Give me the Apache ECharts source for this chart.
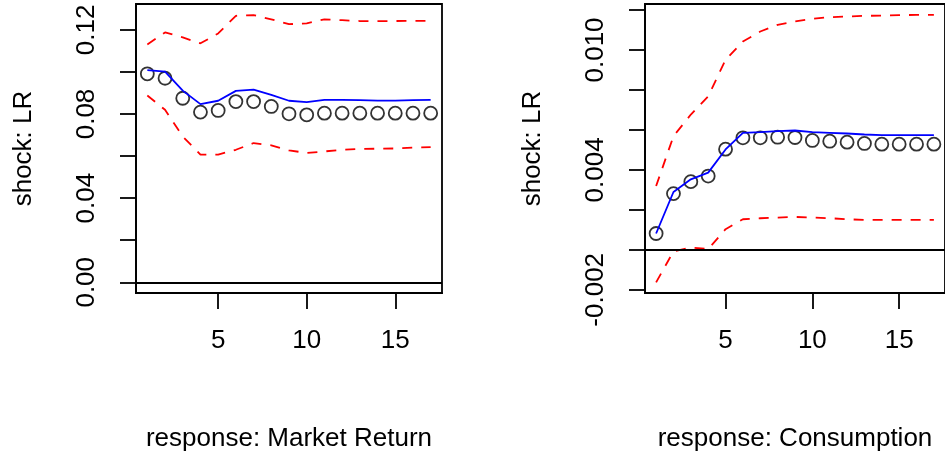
<!DOCTYPE html>
<html>
<head>
<meta charset="utf-8">
<script src="https://cdn.jsdelivr.net/npm/echarts@6/dist/echarts.min.js"></script>
<style>
html,body{margin:0;padding:0;background:#fff;}
#chart{width:945px;height:457px;}
</style>
</head>
<body>
<div id="chart"></div>
<script>
// ---- data ----
const periods = [1,2,3,4,5,6,7,8,9,10,11,12,13,14,15,16,17];

// Panel 1: shock LR -> response Market Return
const mktPoints = [0.0991,0.0970,0.0875,0.0809,0.0817,0.0859,0.0859,0.0836,0.0801,0.0796,0.0804,0.0804,0.0804,0.0804,0.0804,0.0804,0.0804];
const mktLine   = [0.1009,0.1001,0.0911,0.0847,0.0863,0.0910,0.0916,0.0891,0.0863,0.0856,0.0867,0.0867,0.0866,0.0864,0.0864,0.0866,0.0867];
const mktUpper  = [0.1131,0.1188,0.1164,0.1136,0.1183,0.1267,0.1270,0.1250,0.1227,0.1231,0.1250,0.1246,0.1242,0.1242,0.1242,0.1243,0.1243];
const mktLower  = [0.0888,0.0820,0.0693,0.0607,0.0607,0.0630,0.0662,0.0651,0.0627,0.0615,0.0622,0.0630,0.0634,0.0635,0.0636,0.0640,0.0643];

// Panel 2: shock LR -> response Consumption
const conPoints = [0.000818,0.002813,0.003412,0.003691,0.005037,0.005606,0.005606,0.005636,0.005621,0.005472,0.005436,0.005387,0.005322,0.005287,0.005287,0.005287,0.005287];
const conLine   = [0.000818,0.002893,0.003527,0.003861,0.005023,0.005856,0.005886,0.005936,0.005971,0.005886,0.005856,0.005821,0.005771,0.005736,0.005736,0.005736,0.005736];
const conUpper  = [0.003192,0.005686,0.006769,0.007682,0.009512,0.010425,0.010924,0.011258,0.011423,0.011557,0.011642,0.011672,0.011707,0.011722,0.011742,0.011757,0.011757];
const conLower  = [-0.001626,-0.000080,0.000120,0.000035,0.001033,0.001531,0.001581,0.001616,0.001646,0.001616,0.001581,0.001531,0.001496,0.001496,0.001496,0.001496,0.001496];

// ticks / labels
const xTicks = [5,10,15];
const mktYTicks = [0,0.02,0.04,0.06,0.08,0.10,0.12];
const mktYLabels = [0,0.04,0.08,0.12];
const conYTicks = [-0.002,0,0.002,0.004,0.006,0.008,0.010,0.012];
const conYLabels = [-0.002,0.004,0.010];

const yName = 'shock: LR';
const xNames = ['response: Market Return','response: Consumption'];

// ---- build ----
const FONT = "'Liberation Sans', Arial, sans-serif";
const FS = 26;
const LW = 1.8;

function pairs(ys){ return periods.map((p,i)=>[p, ys[i]]); }

function xAxis(gi, name){
  return {
    type:'value', gridIndex:gi, min:0.36, max:17.64, position:'bottom',
    name:name, nameLocation:'middle', nameGap:133,
    nameTextStyle:{color:'#000', fontSize:FS, fontFamily:FONT},
    axisLine:{show:true, onZero:false, lineStyle:{color:'#000', width:LW}},
    axisTick:{show:true, inside:false, length:16, customValues:xTicks, lineStyle:{color:'#000', width:LW}},
    axisLabel:{show:true, customValues:xTicks, color:'#000', fontSize:FS, fontFamily:FONT, margin:35},
    splitLine:{show:false}
  };
}
function yAxis(gi, min, max, ticks, labels, dec){
  return {
    type:'value', gridIndex:gi, min:min, max:max, position:'left',
    name:yName, nameLocation:'middle', nameGap:99, nameRotate:90,
    nameTextStyle:{color:'#000', fontSize:FS, fontFamily:FONT},
    axisLine:{show:true, onZero:false, lineStyle:{color:'#000', width:LW}},
    axisTick:{show:true, inside:false, length:16, customValues:ticks, lineStyle:{color:'#000', width:LW}},
    axisLabel:{show:true, customValues:labels, rotate:90, color:'#000', fontSize:FS, fontFamily:FONT, margin:36,
      formatter:(v)=> Number(v).toFixed(dec)},
    splitLine:{show:false}
  };
}
function seriesFor(gi, pts, line, up, lo){
  const dashed = {color:'#FF0000', width:LW, type:[10,9]};
  return [
    {type:'line', xAxisIndex:gi, yAxisIndex:gi, data:pairs(up), symbol:'none', lineStyle:dashed, silent:true},
    {type:'line', xAxisIndex:gi, yAxisIndex:gi, data:pairs(lo), symbol:'none', lineStyle:dashed, silent:true},
    {type:'line', xAxisIndex:gi, yAxisIndex:gi, data:pairs(line), symbol:'none', lineStyle:{color:'#0000FF', width:LW}, silent:true},
    {type:'scatter', xAxisIndex:gi, yAxisIndex:gi, data:pairs(pts), symbol:'circle', symbolSize:13,
      itemStyle:{color:'rgba(0,0,0,0)', borderColor:'#000', borderWidth:LW}, silent:true,
      markLine:{silent:true, symbol:['none','none'], label:{show:false},
        lineStyle:{color:'#000', width:LW, type:'solid'}, data:[{yAxis:0}]}}
  ];
}

const chart = echarts.init(document.getElementById('chart'), null, {renderer:'canvas'});
chart.setOption({
  animation:false,
  backgroundColor:'#fff',
  grid:[
    {left:136, top:4, width:306, height:289, show:true, borderColor:'#000', borderWidth:LW, backgroundColor:'transparent'},
    {left:645, top:4, width:307, height:289, show:true, borderColor:'#000', borderWidth:LW, backgroundColor:'transparent'}
  ],
  xAxis:[xAxis(0, xNames[0]), xAxis(1, xNames[1])],
  yAxis:[
    yAxis(0, -0.0051, 0.1323, mktYTicks, mktYLabels, 2),
    yAxis(1, -0.00216, 0.0123, conYTicks, conYLabels, 3)
  ],
  series:[].concat(
    seriesFor(0, mktPoints, mktLine, mktUpper, mktLower),
    seriesFor(1, conPoints, conLine, conUpper, conLower)
  )
});
</script>
</body>
</html>
